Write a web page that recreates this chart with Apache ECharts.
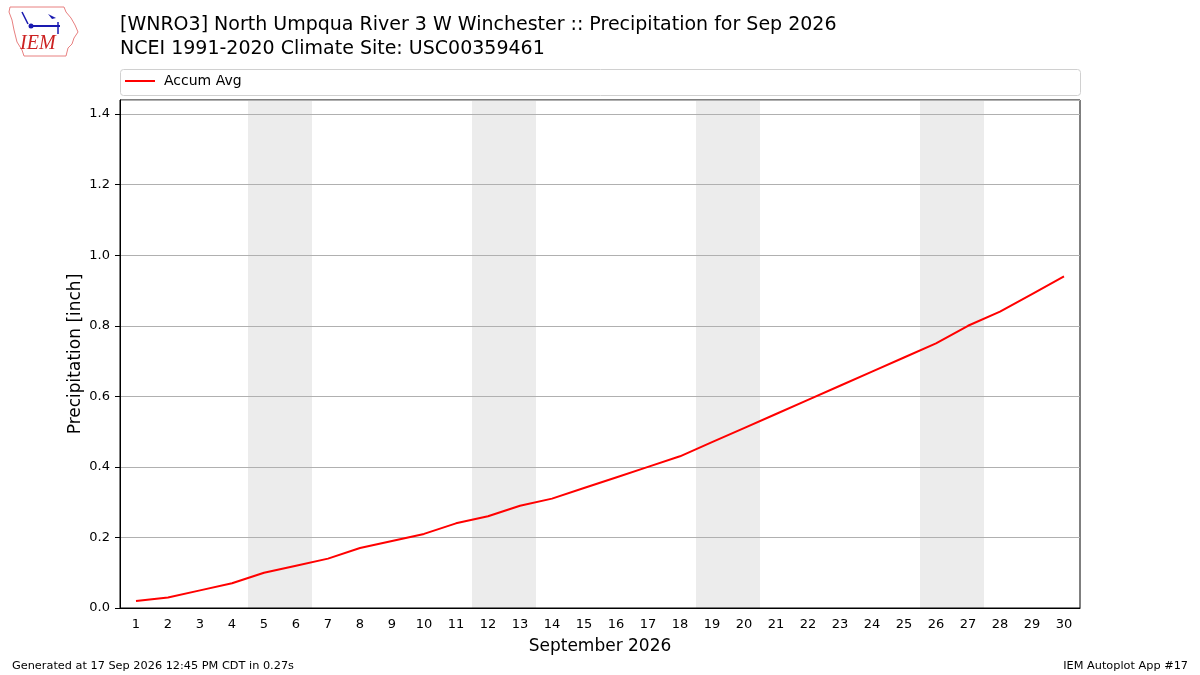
<!DOCTYPE html>
<html>
<head>
<meta charset="utf-8">
<script src="https://cdn.jsdelivr.net/npm/echarts@6/dist/echarts.min.js"></script>
<style>
html,body{margin:0;padding:0;background:#fff;}
#chart{width:1200px;height:675px;}
</style>
</head>
<body>
<div id="chart"></div>
<script>
const days = ['1','2','3','4','5','6','7','8','9','10','11','12','13','14','15','16','17','18','19','20','21','22','23','24','25','26','27','28','29','30'];
const accumAvg = [0.02,0.03,0.05,0.07,0.10,0.12,0.14,0.17,0.19,0.21,0.24,0.26,0.29,0.31,0.34,0.37,0.40,0.43,0.47,0.51,0.55,0.59,0.63,0.67,0.71,0.75,0.80,0.84,0.89,0.94];
const weekendDays = ['5','6','12','13','19','20','26','27'];
const yMax = 1.44;
const titleLine1 = '[WNRO3] North Umpqua River 3 W Winchester :: Precipitation for Sep 2026';
const titleLine2 = 'NCEI 1991-2020 Climate Site: USC00359461';

const FONT = 'DejaVu Sans';
const weekendBars = days.map(d => weekendDays.includes(d) ? yMax : null);

const chart = echarts.init(document.getElementById('chart'), null, {renderer:'canvas'});
chart.setOption({
  animation: false,
  backgroundColor: '#fff',
  textStyle: {fontFamily: FONT},
  title: [
    {text: titleLine1, left: 115, top: 11, textStyle:{fontFamily:FONT, fontSize:19, fontWeight:'normal', color:'#000'}},
    {text: titleLine2, left: 115, top: 35, textStyle:{fontFamily:FONT, fontSize:19, fontWeight:'normal', color:'#000'}},
    {text: 'Generated at 17 Sep 2026 12:45 PM CDT in 0.27s', left: 7, top: 656, textStyle:{fontFamily:FONT, fontSize:11.3, fontWeight:'normal', color:'#000'}},
    {text: 'IEM Autoplot App #17', right: 7, top: 656, textStyle:{fontFamily:FONT, fontSize:11.3, fontWeight:'normal', color:'#000'}}
  ],
  legend: {
    data: ['Accum Avg'],
    left: 120, top: 69,
    icon: 'rect', itemWidth: 30, itemHeight: 2, itemGap: 10,
    textStyle: {fontFamily: FONT, fontSize: 14, color:'#000', padding:[0,0,0,4]}
  },
  graphic: [
    {type:'rect', shape:{x:120.5, y:69.5, width:960, height:26, r:3}, style:{fill:'none', stroke:'#d0d0d0', lineWidth:1}, z:-1},
    {type:'polygon', shape:{points:[[10,7],[64,7],[66,12],[71,18],[75,25],[78,32],[74,38],[72,44],[68,48],[66,56],[24,56],[22,50],[17,42],[14,30],[12,20],[9,12]]}, style:{fill:'#fff', stroke:'#e88080', lineWidth:1}},
    {type:'line', shape:{x1:30, y1:26, x2:60, y2:26}, style:{stroke:'#1a1ab0', lineWidth:2}},
    {type:'circle', shape:{cx:31, cy:26, r:2.5}, style:{fill:'#1a1ab0'}},
    {type:'line', shape:{x1:22, y1:12, x2:28, y2:24}, style:{stroke:'#1a1ab0', lineWidth:1.5}},
    {type:'polygon', shape:{points:[[48,14],[56,18],[52,19]]}, style:{fill:'#1a1ab0'}},
    {type:'line', shape:{x1:58, y1:22, x2:58, y2:34}, style:{stroke:'#1a1ab0', lineWidth:1.5}},
    {type:'text', style:{x:20, y:34, text:'IEM', fill:'#cc2222', font:'italic 20px "Liberation Serif", serif'}}
  ],
  grid: {left:120, right:120, top:100, bottom:67, show:true, borderColor:'#000', borderWidth:1, backgroundColor:'transparent'},
  xAxis: {
    type: 'category', data: days, boundaryGap: true,
    name: 'September 2026', nameLocation: 'middle', nameGap: 30,
    nameTextStyle: {fontFamily:FONT, fontSize:17, color:'#000'},
    axisLine: {lineStyle:{color:'#000'}},
    axisTick: {alignWithLabel:true, length:5, lineStyle:{color:'#000'}},
    axisLabel: {fontFamily:FONT, fontSize:13, color:'#000', margin:10, interval:0},
    splitLine: {show:false}
  },
  yAxis: {
    type: 'value', min: 0, max: yMax, interval: 0.2,
    name: 'Precipitation [inch]', nameLocation: 'middle', nameGap: 36, nameMoveOverlap: false,
    nameTextStyle: {fontFamily:FONT, fontSize:17, color:'#000'},
    axisLine: {show:true, lineStyle:{color:'#000'}},
    axisTick: {show:true, length:5, lineStyle:{color:'#000'}},
    axisLabel: {fontFamily:FONT, fontSize:13, color:'#000', margin:10, showMaxLabel:false, formatter: v => v.toFixed(1)},
    splitLine: {show:true, lineStyle:{color:'#b0b0b0', width:1}}
  },
  series: [
    {name:'weekend', type:'bar', data: weekendBars, barCategoryGap:'0%', itemStyle:{color:'#ececec'}, silent:true, z:-1},
    {name:'Accum Avg', type:'line', data: accumAvg, showSymbol:false, symbol:'none', lineStyle:{color:'#ff0000', width:2}, itemStyle:{color:'#ff0000'}, z:3}
  ]
});
</script>
</body>
</html>
